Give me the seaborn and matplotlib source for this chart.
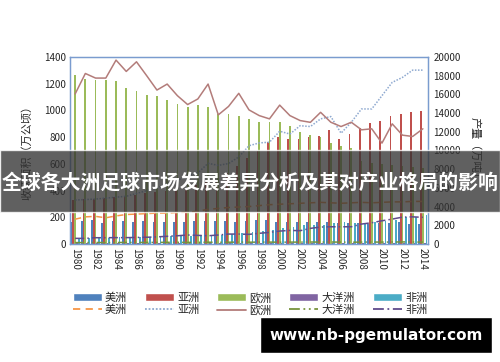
import numpy as np
import pandas as pd
import matplotlib
matplotlib.use("Agg")
import matplotlib.pyplot as plt
import seaborn as sns
from matplotlib.patches import Patch, Rectangle
from matplotlib.lines import Line2D

years = list(range(1980, 2015))
continents = ["美洲", "亚洲", "欧洲", "大洋洲", "非洲"]

# harvested area (left axis, 万公顷)
americas_area = [167, 172, 180, 155, 172, 172, 167, 172, 167, 167, 167, 162, 172, 175, 172, 172, 167, 172,
                 180, 180, 167, 162, 167, 167, 162, 162, 155, 155, 155, 150, 155, 155, 162, 150, 148]
asia_area = [330, 335, 340, 345, 350, 360, 370, 380, 390, 400, 410, 420, 440, 460, 480, 530, 580, 640,
             697, 764, 801, 787, 787, 801, 811, 849, 787, 826, 869, 906, 921, 954, 974, 991, 996]
europe_area = [1262, 1234, 1228, 1226, 1219, 1169, 1144, 1116, 1109, 1079, 1047, 1024, 1041, 1024, 971,
               972, 958, 936, 916, 916, 914, 884, 834, 816, 798, 758, 732, 716, 620, 605, 595, 590, 585,
               575, 565]
oceania_area = [8] * 35
africa_area = [40, 45, 50, 48, 50, 52, 50, 55, 55, 58, 60, 62, 65, 68, 70, 75, 80, 88, 95, 105, 118, 125,
               142, 140, 142, 155, 167, 155, 160, 165, 170, 180, 205, 205, 215]

# production (right axis, 万吨)
americas_prod = [2650, 2900, 2950, 2800, 3000, 3150, 3200, 3250, 3300, 3300, 3370, 3400, 3500, 3700, 3800,
                 3900, 3950, 4000, 4100, 4200, 4250, 4300, 4350, 4400, 4450, 4400, 4350, 4400, 4450, 4400,
                 4450, 4500, 4500, 4550, 4550]
asia_prod = [4700, 4750, 4800, 4900, 5000, 5100, 5400, 5700, 6000, 6400, 6800, 7300, 7600, 8620, 8400,
             8600, 9300, 10500, 10800, 10880, 12050, 11750, 12640, 12550, 13370, 13620, 11840, 13010,
             14430, 14430, 15850, 17270, 17800, 18580, 18580]
europe_prod = [16030, 18220, 17730, 17730, 19650, 18440, 19470, 17980, 16450, 17090, 15850, 14900, 15500,
               17090, 13800, 14700, 16100, 14330, 13720, 13370, 14840, 13720, 13190, 13000, 14070, 13010,
               12550, 13010, 12200, 12310, 10780, 12840, 11630, 11490, 12310]
oceania_prod = [150, 150, 160, 150, 160, 170, 160, 170, 170, 180, 180, 170, 180, 190, 180, 190, 200, 190,
                200, 200, 190, 200, 200, 210, 200, 210, 200, 190, 200, 210, 200, 210, 220, 210, 200]
africa_prod = [600, 600, 670, 670, 680, 680, 700, 720, 760, 820, 880, 960, 920, 880, 960, 1060, 1060, 1030,
               1140, 1240, 1380, 1450, 1420, 1670, 1810, 1840, 1840, 1840, 2130, 2270, 2480, 2660, 2870,
               2900, 2850]

bar_colors = ["#4F81BD", "#C0504D", "#9BBB59", "#8064A2", "#4BACC6"]
line_colors = ["#F79646", "#8EA9D0", "#B37C7A", "#77933C", "#5F4B8B"]
line_styles = [(0, (4, 3)), (0, (1, 1)), "-", (0, (6, 2, 1, 2, 1, 2)), (0, (6, 2, 1, 2))]

area = pd.DataFrame({"year": years * 5,
                     "continent": sum([[c] * len(years) for c in continents], []),
                     "area": americas_area + asia_area + europe_area + oceania_area + africa_area})
prods = [americas_prod, asia_prod, europe_prod, oceania_prod, africa_prod]

sns.set_style("white")
plt.rcParams["font.family"] = ["Noto Sans CJK SC", "DejaVu Sans"]

fig = plt.figure(figsize=(5, 3.62), dpi=100)
ax = fig.add_axes([0.14, 0.326, 0.716, 0.517])

sns.barplot(data=area, x="year", y="area", hue="continent", hue_order=continents,
            palette=bar_colors, width=0.86, ax=ax, legend=False, saturation=1, linewidth=0)
ax.set_ylim(0, 1400)
ax.set_xlim(-0.5, len(years) - 0.5)
ax.set_yticks(range(0, 1401, 200))
ax.set_xticks(range(0, len(years), 2))
ax.set_xticklabels([str(y) for y in years[::2]], rotation=-90, fontsize=7)
ax.tick_params(axis="both", length=0, labelsize=7, pad=3)
ax.set_xlabel("")
ax.set_ylabel("收获面积（万公顷）", fontsize=8, labelpad=8)

ax2 = ax.twinx()
pos = np.arange(len(years))
for vals, col, ls in zip(prods, line_colors, line_styles):
    sns.lineplot(x=pos, y=vals, ax=ax2, color=col, linestyle=ls, linewidth=1.1)
ax2.set_ylim(0, 20000)
ax2.set_yticks(range(0, 20001, 2000))
ax2.tick_params(axis="y", length=0, labelsize=7, pad=4)
ax2.set_ylabel("产量（万吨）", fontsize=8, rotation=-90, labelpad=14)

for a in (ax, ax2):
    for s in a.spines.values():
        s.set_color("#7A9CCF")
        s.set_linewidth(0.9)

handles = []
for i, c in enumerate(continents):
    handles.append(Patch(facecolor=bar_colors[i], label=c))
    handles.append(Line2D([0], [0], color=line_colors[i], linestyle=line_styles[i], lw=1.3, label=c))
fig.legend(handles=handles, ncol=5, loc="center", bbox_to_anchor=(0.5, 0.16), frameon=False,
           fontsize=8, handlelength=2.6, handleheight=0.7, columnspacing=1.6, handletextpad=0.3,
           labelspacing=0.15)

# title banner over the chart
fig.patches.append(Rectangle((0, 0.414), 1, 0.171, transform=fig.transFigure,
                             facecolor="#333333", alpha=0.78, zorder=10))
fig.text(0.5, 0.497, "全球各大洲足球市场发展差异分析及其对产业格局的影响", ha="center", va="center",
         color="white", fontsize=14.3, fontweight="bold", zorder=11)

# site mark
fig.patches.append(Rectangle((0.52, 0.025), 0.464, 0.099, transform=fig.transFigure,
                             facecolor="black", zorder=10))
fig.text(0.752, 0.072, "www.nb-pgemulator.com", ha="center", va="center", color="white",
         fontsize=11, fontweight="bold", family=["DejaVu Sans"], zorder=11)

fig.savefig("out.png", dpi=100)
